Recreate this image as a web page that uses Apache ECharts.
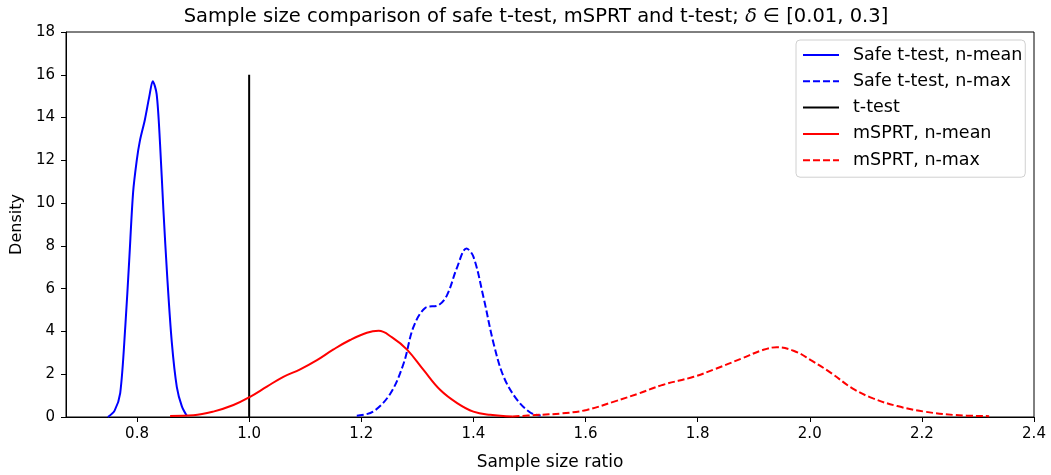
<!DOCTYPE html>
<html>
<head>
<meta charset="utf-8">
<script src="https://cdn.jsdelivr.net/npm/echarts@6/dist/echarts.min.js"></script>
<style>html,body{margin:0;padding:0;background:#fff}#c{width:1051px;height:475px}</style>
</head>
<body>
<div id="c"></div>
<script>
const xTicks = [0.8, 1.0, 1.2, 1.4, 1.6, 1.8, 2.0, 2.2, 2.4];
const seriesNames = ['Safe t-test, n-mean', 'Safe t-test, n-max', 't-test', 'mSPRT, n-mean', 'mSPRT, n-max'];

const safeMeanX = [0.748, 0.760, 0.770, 0.779, 0.786, 0.793, 0.7995, 0.805, 0.814, 0.822, 0.828, 0.835, 0.841, 0.847, 0.854, 0.862, 0.871, 0.880, 0.889];
const safeMeanY = [0.0, 0.3, 1.12, 4.2, 7.3, 10.5, 12.0, 12.9, 13.9, 15.0, 15.7, 15.1, 12.8, 9.7, 6.5, 3.5, 1.4, 0.5, 0.05];

const safeMaxX = [1.192, 1.221, 1.252, 1.2755, 1.293, 1.314, 1.338, 1.353, 1.371, 1.3875, 1.40, 1.418, 1.436, 1.454, 1.478, 1.502, 1.52];
const safeMaxY = [0.06, 0.25, 1.1, 2.5, 4.2, 5.1, 5.23, 5.7, 7.0, 7.88, 7.5, 5.6, 3.44, 1.88, 0.8, 0.2, 0.07];

const tTestX = [1.0, 1.0];
const tTestY = [0, 16];

const msprtMeanX = [0.859, 0.9006, 0.936, 0.972, 1.0, 1.0316, 1.061, 1.091, 1.121, 1.1505, 1.180, 1.21, 1.231, 1.255, 1.2816, 1.311, 1.341, 1.371, 1.40, 1.43, 1.47];
const msprtMeanY = [0.05, 0.08, 0.25, 0.56, 0.92, 1.42, 1.88, 2.23, 2.66, 3.16, 3.6, 3.94, 4.03, 3.72, 3.15, 2.2, 1.26, 0.65, 0.25, 0.1, 0.02];

const msprtMaxX = [1.47, 1.51, 1.559, 1.602, 1.651, 1.695, 1.7375, 1.793, 1.83, 1.879, 1.916, 1.941, 1.971, 2.002, 2.039, 2.076, 2.113, 2.156, 2.205, 2.26, 2.32];
const msprtMaxY = [0.02, 0.09, 0.17, 0.33, 0.72, 1.1, 1.5, 1.88, 2.23, 2.74, 3.13, 3.26, 3.1, 2.66, 2.04, 1.34, 0.87, 0.51, 0.25, 0.09, 0.04];

const zip = (xs, ys) => xs.map((x, i) => [x, ys[i]]);
const F = 'DejaVu Sans';

const chart = echarts.init(document.getElementById('c'), null, {renderer: 'canvas'});
function line(name, xs, ys, color, dashed, smooth) {
  return {
    name, type: 'line', data: zip(xs, ys), showSymbol: false, symbol: 'none',
    smooth: smooth, animation: false,
    lineStyle: {color, width: 2, type: dashed ? [7, 3] : 'solid'},
    itemStyle: {color}
  };
}
chart.setOption({
  animation: false,
  title: {
    text: 'Sample size comparison of safe t-test, mSPRT and t-test; {i|δ} ∈ [0.01, 0.3]',
    left: 531, top: 2, textAlign: 'center',
    textStyle: {fontFamily: F, fontSize: 19.5, fontWeight: 'normal', color: '#000',
      rich: {i: {fontFamily: F, fontSize: 19.5, fontStyle: 'italic', color: '#000'}}}
  },
  grid: {left: 66, right: 17, top: 32, bottom: 58, show: true, borderColor: '#000', borderWidth: 1,
    containLabel: false, outerBoundsMode: 'none'},
  legend: {
    orient: 'vertical', left: 796, top: 40,
    padding: [6, 3, 8, 6], itemWidth: 36, itemHeight: 14, itemGap: 8.3,
    borderColor: '#d0d0d0', borderWidth: 1, borderRadius: 4, backgroundColor: '#fff',
    itemStyle: {opacity: 0},
    textStyle: {fontFamily: F, fontSize: 17.5, lineHeight: 18, color: '#000', padding: [0, 0, 0, 9]},
    data: seriesNames
  },
  xAxis: {
    type: 'value', min: 0.6733, max: 2.4,
    name: 'Sample size ratio', nameLocation: 'middle', nameGap: 37,
    nameTextStyle: {fontFamily: F, fontSize: 17, color: '#000'},
    splitLine: {show: false},
    axisLine: {show: true, lineStyle: {color: '#000', width: 1}, onZero: false},
    axisTick: {show: true, length: 5, inside: false, lineStyle: {color: '#000'}, customValues: xTicks},
    axisLabel: {fontFamily: F, fontSize: 15, color: '#000', margin: 10, customValues: xTicks,
      formatter: v => v.toFixed(1)}
  },
  yAxis: {
    type: 'value', min: 0, max: 18, interval: 2,
    name: 'Density', nameLocation: 'middle', nameGap: 41,
    nameTextStyle: {fontFamily: F, fontSize: 16, color: '#000'},
    splitLine: {show: false},
    axisLine: {show: true, lineStyle: {color: '#000', width: 1}},
    axisTick: {show: true, length: 5, lineStyle: {color: '#000'}},
    axisLabel: {fontFamily: F, fontSize: 15, color: '#000', margin: 11}
  },
  series: [
    line(seriesNames[0], safeMeanX, safeMeanY, '#0000ff', false, 0.3),
    line(seriesNames[1], safeMaxX, safeMaxY, '#0000ff', true, 0.35),
    line(seriesNames[2], tTestX, tTestY, '#000000', false, false),
    line(seriesNames[3], msprtMeanX, msprtMeanY, '#ff0000', false, 0.4),
    line(seriesNames[4], msprtMaxX, msprtMaxY, '#ff0000', true, 0.4)
  ]
});
</script>
</body>
</html>
